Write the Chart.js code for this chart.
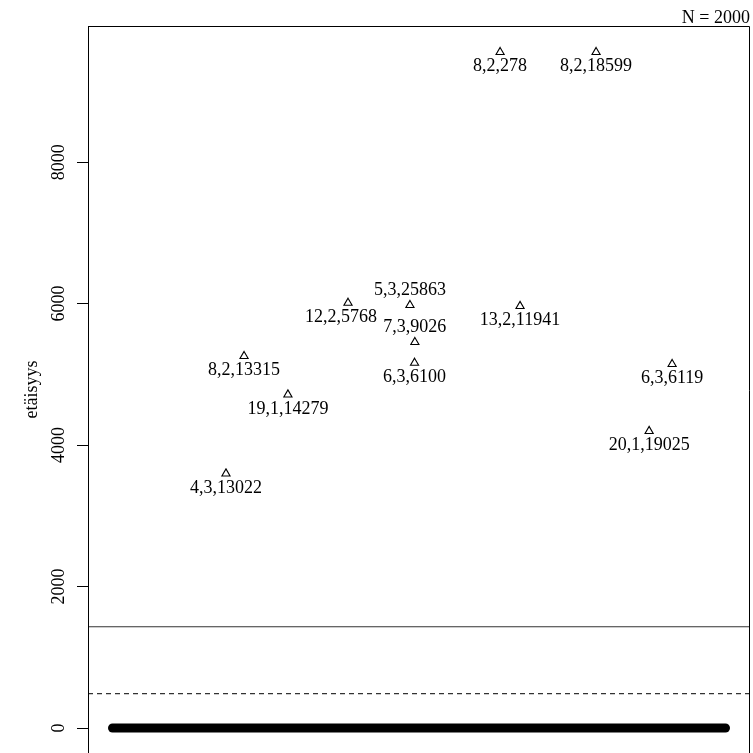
<!DOCTYPE html>
<html>
<head>
<meta charset="utf-8">
<script src="https://cdn.jsdelivr.net/npm/chart.js@4"></script>
<style>
html,body{margin:0;padding:0;overflow:hidden;background:#fff}
#wrap{width:753px;height:753px}
#c{display:block}
</style>
</head>
<body>
<div id="wrap"><canvas id="c" width="753" height="753" style="width:753px;height:753px"></canvas></div>
<script>
// ---- data ----
const nTotal = 2000;
const yAxisTitle = 'etäisyys';
const yTickValues = [0, 2000, 4000, 6000, 8000];
const outlierIndex    = [371, 430, 573, 769, 971, 987, 986, 1265, 1330, 1578, 1751, 1826];
const outlierDistance = [3597, 5258, 4714, 6010, 5979, 5456, 5162, 9555, 5965, 9555, 4198, 5145];
const outlierLabels   = ['4,3,13022', '8,2,13315', '19,1,14279', '12,2,5768', '5,3,25863', '7,3,9026',
                         '6,3,6100', '8,2,278', '13,2,11941', '8,2,18599', '20,1,19025', '6,3,6119'];
const bulkIndex    = [1, 2000];
const bulkDistance = [0, 0];
const cutoffSolid  = 1432;
const cutoffDashed = 485;

// ---- style / layout ----
const FONT = '"Liberation Serif", "DejaVu Serif", "Times New Roman", serif';
const labelAbove = [false, false, false, false, true, true, false, false, false, false, false, false];
const labelShiftX = [0, 0, 0, -7, 0, 0, 0, 0, 0, 0, 0, 0];
const X_MIN = 1 - 0.04 * (nTotal - 1);
const X_MAX = nTotal + 0.04 * (nTotal - 1);
// visible window of the y axis (the plot box continues just below the picture)
const Y_MIN = -353, Y_MAX = 9922;

const framePlugin = {
  id: 'frame',
  afterDraw(chart) {
    const {ctx, chartArea: a} = chart;
    const l = Math.round(a.left) + 0.5, t = Math.round(a.top) + 0.5, r = Math.round(a.right) - 0.5;
    ctx.save();
    ctx.strokeStyle = '#000';
    ctx.lineWidth = 1;
    ctx.beginPath();
    ctx.moveTo(l, a.bottom + 2);
    ctx.lineTo(l, t);
    ctx.lineTo(r, t);
    ctx.lineTo(r, a.bottom + 2);
    ctx.stroke();
    ctx.restore();
  }
};

const labelPlugin = {
  id: 'ptlabels',
  afterDatasetsDraw(chart) {
    const {ctx} = chart;
    const meta = chart.getDatasetMeta(0);
    ctx.save();
    ctx.font = '18px ' + FONT;
    ctx.fillStyle = '#000';
    ctx.textAlign = 'center';
    ctx.textBaseline = 'alphabetic';
    meta.data.forEach((el, i) => {
      const dy = labelAbove[i] ? -10 : 19;
      ctx.fillText(outlierLabels[i], el.x + labelShiftX[i], el.y + dy);
    });
    ctx.restore();
  }
};

new Chart(document.getElementById('c'), {
  type: 'scatter',
  data: {
    datasets: [
      {
        label: 'outliers',
        data: outlierIndex.map((x, i) => ({x, y: outlierDistance[i]})),
        pointStyle: 'triangle',
        pointRadius: 4.7,
        borderColor: '#000',
        backgroundColor: 'rgba(0,0,0,0)',
        borderWidth: 1.1,
        showLine: false
      },
      {
        label: 'bulk',
        data: bulkIndex.map((x, i) => ({x, y: bulkDistance[i]})),
        showLine: true,
        borderColor: '#000',
        borderWidth: 9,
        borderCapStyle: 'round',
        pointRadius: 0
      },
      {
        label: 'cutoff1',
        data: [{x: X_MIN, y: cutoffSolid}, {x: X_MAX, y: cutoffSolid}],
        showLine: true,
        borderColor: '#333',
        borderWidth: 1.2,
        pointRadius: 0
      },
      {
        label: 'cutoff2',
        data: [{x: X_MIN, y: cutoffDashed}, {x: X_MAX, y: cutoffDashed}],
        showLine: true,
        borderColor: '#333',
        borderWidth: 1.2,
        borderDash: [5, 4],
        pointRadius: 0
      }
    ]
  },
  options: {
    responsive: false,
    maintainAspectRatio: false,
    animation: false,
    events: [],
    layout: {autoPadding: false, padding: {left: 0, right: 3, top: 0, bottom: 0}},
    plugins: {
      legend: {display: false},
      tooltip: {enabled: false},
      title: {
        display: true,
        text: 'N = ' + nTotal,
        align: 'end',
        color: '#000',
        font: {family: FONT, size: 18, weight: 'normal', lineHeight: 0.9},
        padding: {top: 10, bottom: 0}
      }
    },
    scales: {
      x: {type: 'linear', display: false, min: X_MIN, max: X_MAX},
      y: {
        type: 'linear',
        min: Y_MIN,
        max: Y_MAX,
        afterBuildTicks: s => { s.ticks = yTickValues.map(v => ({value: v})); },
        afterFit: s => { s.width = 88; s.paddingTop = 0; s.paddingBottom = 0; },
        border: {display: true, color: '#000', width: 1},
        grid: {display: true, drawOnChartArea: false, drawTicks: true, tickLength: 11,
               color: '#000', tickColor: '#000', tickWidth: 1},
        ticks: {
          color: '#000',
          font: {family: FONT, size: 18},
          padding: 0,
          minRotation: 90,
          maxRotation: 90,
          crossAlign: 'center',
          callback: v => String(v)
        },
        title: {
          display: true,
          text: yAxisTitle,
          color: '#000',
          font: {family: FONT, size: 18},
          padding: {top: 21, bottom: 0}
        }
      }
    }
  },
  plugins: [framePlugin, labelPlugin]
});
</script>
</body>
</html>
